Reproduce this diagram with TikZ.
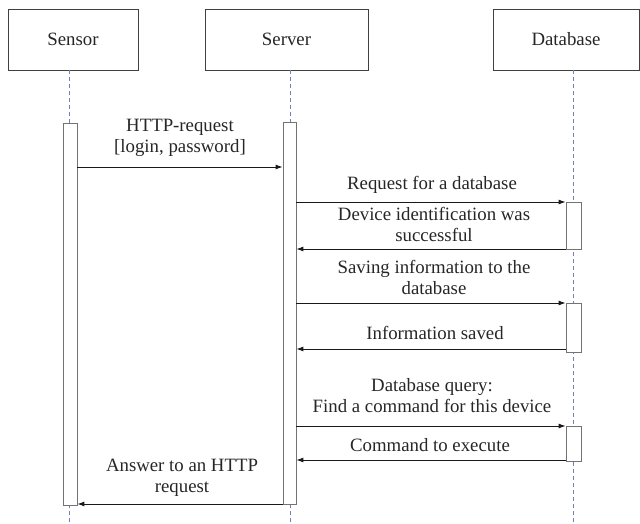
\documentclass[tikz,border=0pt]{standalone}
\usepackage{fontspec}
\setmainfont{Liberation Serif}
\usetikzlibrary{arrows.meta}
\begin{document}
\begin{tikzpicture}[x=1pt,y=-1pt,
  every node/.style={font=\fontsize{18.8}{21}\selectfont, text=black!85},
  actor/.style={draw=black!75, line width=0.9pt, fill=white, minimum height=61pt, inner sep=0pt},
  activation/.style={draw=black!55, line width=0.8pt, fill=white, minimum width=14pt, inner sep=0pt},
  lifeline/.style={draw={rgb,255:red,110;green,130;blue,185}, line width=0.6pt, dash pattern=on 4pt off 3pt},
  msg/.style={draw=black!90, line width=0.9pt, -{Latex[length=7pt,width=5pt]}},
  msglabel/.style={align=center, inner sep=0pt}
]
\useasboundingbox (0,0) rectangle (640,524);

% participants
\node[actor, minimum width=130pt] (sensor) at (73,39.5) {Sensor};
\node[actor, minimum width=163pt] (server) at (286.5,39.5) {Server};
\node[actor, minimum width=146pt] (db) at (566,39.5) {Database};

% life lines
\coordinate (sensorEnd) at (69,524);
\coordinate (serverEnd) at (290,524);
\coordinate (dbEnd) at (573,524);
\draw[lifeline] (sensor.south -| sensorEnd) -- (sensorEnd);
\draw[lifeline] (server.south -| serverEnd) -- (serverEnd);
\draw[lifeline] (db.south -| dbEnd) -- (dbEnd);

% activation bars
\node[activation, minimum height=382pt] (sact) at (70,314) {};
\node[activation, minimum height=382pt, minimum width=13pt] (vact) at (289.5,313) {};
\node[activation, minimum height=47pt, minimum width=15pt] (dact1) at (573.5,225.5) {};
\node[activation, minimum height=49pt, minimum width=15pt] (dact2) at (573.5,327.5) {};
\node[activation, minimum height=35pt, minimum width=15pt] (dact3) at (573.5,443.5) {};

% message rows
\coordinate (r1) at (0,167);
\coordinate (r2) at (0,202);
\coordinate (r3) at (0,249);
\coordinate (r4) at (0,303);
\coordinate (r5) at (0,349);
\coordinate (r6) at (0,426);
\coordinate (r7) at (0,460);
\coordinate (r8) at (0,504);

% messages
\draw[msg] (sact.east |- r1) -- (vact.west |- r1);
\draw[msg] (vact.east |- r2) -- (dact1.west |- r2);
\draw[msg] (dact1.west |- r3) -- (vact.east |- r3);
\draw[msg] (vact.east |- r4) -- (dact2.west |- r4);
\draw[msg] (dact2.west |- r5) -- (vact.east |- r5);
\draw[msg] (vact.east |- r6) -- (dact3.west |- r6);
\draw[msg] (dact3.west |- r7) -- (vact.east |- r7);
\draw[msg] (vact.west |- r8) -- (sact.east |- r8);

% message labels
\node[msglabel] (l1) at (180,137.5) {HTTP-request\\{}[login, password]};
\node[msglabel] (l2) at (432,185) {Request for a database};
\node[msglabel] (l3) at (434,224.5) {Device identification was\\successful};
\node[msglabel] (l4) at (434,277) {Saving information to the\\database};
\node[msglabel] (l5) at (435,333) {Information saved};
\node[msglabel] (l6) at (432,396) {Database query:\\Find a command for this device};
\node[msglabel] (l7) at (430,445) {Command to execute};
\node[msglabel] (l8) at (182,477.5) {Answer to an HTTP\\request};
\end{tikzpicture}
\end{document}
